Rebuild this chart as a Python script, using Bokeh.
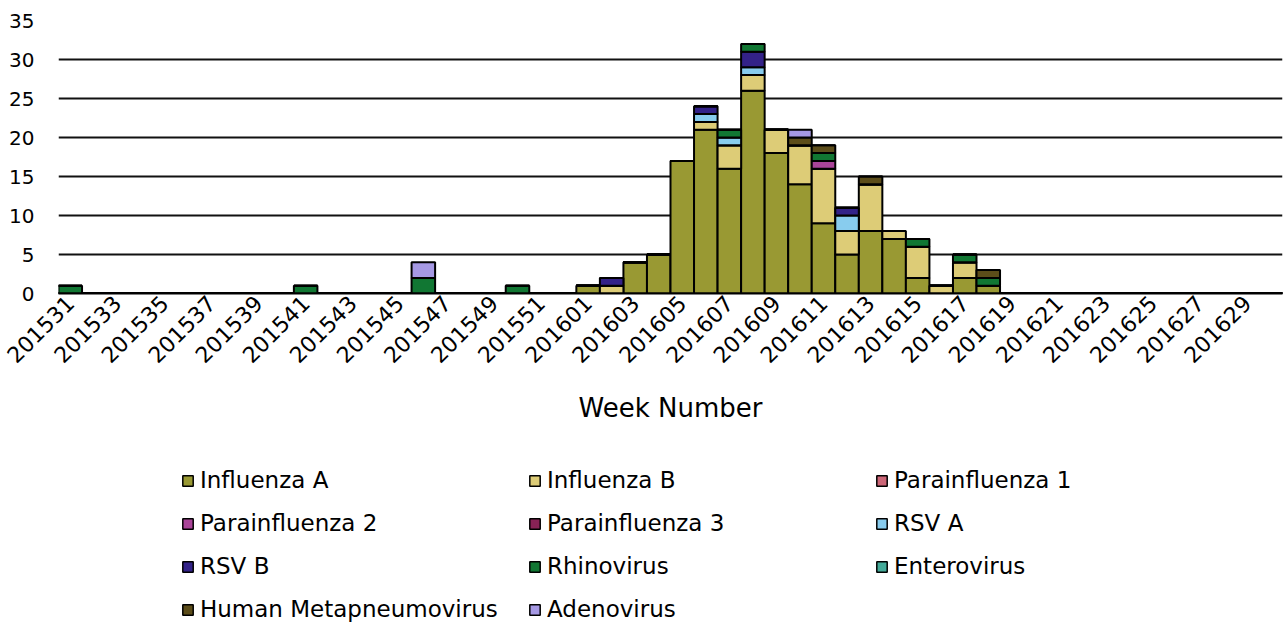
from bokeh.plotting import figure
from bokeh.layouts import column
from bokeh.models import Range1d, FixedTicker, Legend, LegendItem, ColumnDataSource
from bokeh.embed import file_html
from bokeh.resources import INLINE
import math

weeks = ["2015%02d" % w for w in range(31, 53)] + ["2016%02d" % w for w in range(1, 31)]

influenza_a = [0]*22 + [1, 0, 4, 5, 17, 21, 16, 26, 18, 14, 9, 5, 8, 7, 2, 0, 2, 1] + [0]*12
influenza_b = [0]*22 + [0, 1, 0, 0, 0, 1, 3, 2, 3, 5, 7, 3, 6, 1, 4, 1, 2, 0] + [0]*12
parainfluenza_1 = [0]*52
parainfluenza_2 = [0]*22 + [0, 0, 0, 0, 0, 0, 0, 0, 0, 0, 1, 0, 0, 0, 0, 0, 0, 0] + [0]*12
parainfluenza_3 = [0]*52
rsv_a = [0]*22 + [0, 0, 0, 0, 0, 1, 1, 1, 0, 0, 0, 2, 0, 0, 0, 0, 0, 0] + [0]*12
rsv_b = [0]*22 + [0, 1, 0, 0, 0, 1, 0, 2, 0, 0, 0, 1, 0, 0, 0, 0, 0, 0] + [0]*12
rhinovirus = ([1, 0, 0, 0, 0, 0, 0, 0, 0, 0, 1, 0, 0, 0, 0, 2, 0, 0, 0, 1, 0, 0]
              + [0, 0, 0, 0, 0, 0, 1, 1, 0, 0, 1, 0, 0, 0, 1, 0, 1, 1] + [0]*12)
enterovirus = [0]*52
human_metapneumovirus = [0]*22 + [0, 0, 0, 0, 0, 0, 0, 0, 0, 1, 1, 0, 1, 0, 0, 0, 0, 1] + [0]*12
adenovirus = ([0]*15 + [2] + [0]*6) + [0, 0, 0, 0, 0, 0, 0, 0, 0, 1, 0, 0, 0, 0, 0, 0, 0, 0] + [0]*12

series_names = ["Influenza A", "Influenza B", "Parainfluenza 1", "Parainfluenza 2",
                "Parainfluenza 3", "RSV A", "RSV B", "Rhinovirus", "Enterovirus",
                "Human Metapneumovirus", "Adenovirus"]
series_values = [influenza_a, influenza_b, parainfluenza_1, parainfluenza_2, parainfluenza_3,
                 rsv_a, rsv_b, rhinovirus, enterovirus, human_metapneumovirus, adenovirus]
colors = ["#999933", "#DDCC77", "#CC6677", "#AA4499", "#882255", "#88CCEE",
          "#332288", "#117733", "#44AA99", "#5C4D1A", "#A699E4"]

FONT = "DejaVu Sans"

keys = ["s%d" % i for i in range(len(series_names))]
data = {"x": list(range(len(weeks)))}
for k, v in zip(keys, series_values):
    data[k] = v
source = ColumnDataSource(data)

p = figure(width=1286, height=440, output_backend="svg", toolbar_location=None,
           x_range=Range1d(-0.5, len(weeks) - 0.5), y_range=Range1d(0, 35),
           min_border_left=58, min_border_right=4, min_border_top=20, min_border_bottom=147)
p.outline_line_color = None
p.background_fill_color = "white"

renderers = p.vbar_stack(keys, x="x", width=1.0, source=source, fill_color=colors,
                         line_color="black", line_width=2)

# axes
p.xaxis.ticker = FixedTicker(ticks=list(range(0, len(weeks), 2)))
p.xaxis.major_label_overrides = {i: weeks[i] for i in range(0, len(weeks), 2)}
p.xaxis.major_label_orientation = math.pi / 4
p.xaxis.major_label_text_font = FONT
p.xaxis.major_label_text_font_size = "22px"
p.xaxis.major_label_text_color = "black"
p.xaxis.major_tick_line_color = None
p.xaxis.minor_tick_line_color = None
p.xaxis.major_tick_out = 0
p.xaxis.axis_line_color = "black"
p.xaxis.axis_line_width = 2
p.xaxis.major_label_standoff = 6
p.xaxis.axis_label = "Week Number"
p.xaxis.axis_label_text_font = FONT
p.xaxis.axis_label_text_font_size = "26px"
p.xaxis.axis_label_text_font_style = "normal"
p.xaxis.axis_label_text_color = "black"
p.xaxis.axis_label_standoff = 20

p.yaxis.ticker = FixedTicker(ticks=[0, 5, 10, 15, 20, 25, 30, 35])
p.yaxis.major_label_text_font = FONT
p.yaxis.major_label_text_font_size = "20px"
p.yaxis.major_label_text_color = "black"
p.yaxis.axis_line_color = None
p.yaxis.major_tick_line_color = None
p.yaxis.minor_tick_line_color = None
p.yaxis.major_tick_out = 0
p.yaxis.major_label_standoff = 24

p.xgrid.grid_line_color = None
p.ygrid.grid_line_color = "#111111"
p.ygrid.grid_line_width = 2

# legend in its own strip below the chart; swatch renderers hold NaN so they draw nothing
lg = figure(width=1286, height=182, output_backend="svg", toolbar_location=None,
            x_range=Range1d(0, 1), y_range=Range1d(0, 1), x_axis_type=None, y_axis_type=None,
            min_border_left=0, min_border_right=0, min_border_top=0, min_border_bottom=0)
lg.outline_line_color = None
lg.xgrid.grid_line_color = None
lg.ygrid.grid_line_color = None
swatches = []
for name, c in zip(series_names, colors):
    r = lg.vbar(x=[float("nan")], top=[float("nan")], bottom=[float("nan")], width=0.01,
                fill_color=c, line_color="black", line_width=1.5)
    swatches.append(LegendItem(label=name, renderers=[r]))

# legend fills columns first; reorder so it reads row by row (3 per row)
nrows = 4
order = [r * 3 + c for c in range(3) for r in range(nrows) if r * 3 + c < len(swatches)]
legend = Legend(items=[swatches[i] for i in order], ncols=3, location=(123, 0),
                glyph_width=13, glyph_height=13, label_standoff=6,
                label_width=311, label_height=20, spacing=17,
                padding=0, margin=0, border_line_color=None, background_fill_alpha=0,
                label_text_font=FONT, label_text_font_size="23px", label_text_color="black")
lg.add_layout(legend, "center")

layout = column(p, lg, spacing=0)
open("out.html", "w").write(file_html(layout, INLINE))
